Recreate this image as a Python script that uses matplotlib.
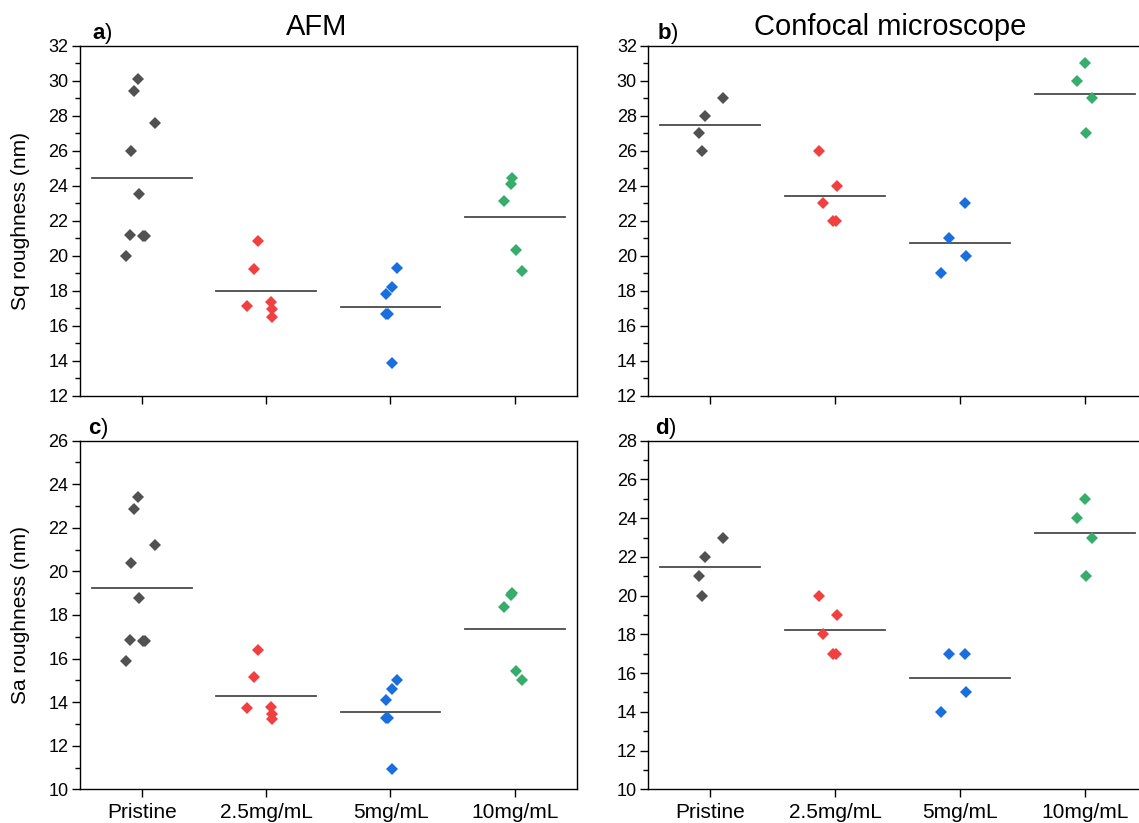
import numpy as np
import matplotlib
matplotlib.use('Agg')
import matplotlib.pyplot as plt
from matplotlib.ticker import MultipleLocator

plt.rcParams['font.family'] = ['Liberation Sans', 'DejaVu Sans']
plt.rcParams['mathtext.fontset'] = 'custom'
plt.rcParams['mathtext.rm'] = 'Liberation Sans'
plt.rcParams['mathtext.bf'] = 'Liberation Sans:bold'

# categories
groups = ['Pristine', '2.5mg/mL', '5mg/mL', '10mg/mL']
colors = ['#515151', '#F14040', '#1A6FDF', '#37AD6B']

# AFM (horizontal jitter per sample)
afm_dx = [
    [-0.03, -0.064, 0.105, -0.088, -0.02, -0.094, 0.006, 0.023, -0.123],
    [-0.064, -0.096, -0.152, 0.038, 0.05, 0.05],
    [0.053, 0.015, -0.035, -0.04, -0.02, 0.012],
    [-0.023, -0.029, -0.085, 0.012, 0.061],
]
sq_afm = [
    [30.12, 29.41, 27.59, 25.99, 23.55, 21.17, 21.15, 21.12, 19.97],
    [20.85, 19.23, 17.14, 17.37, 16.95, 16.53],
    [19.33, 18.24, 17.80, 16.70, 16.68, 13.86],
    [24.43, 24.08, 23.13, 20.35, 19.16],
]
sa_afm = [
    [23.40, 22.88, 21.23, 20.37, 18.80, 16.84, 16.82, 16.80, 15.90],
    [16.41, 15.14, 13.72, 13.79, 13.46, 13.21],
    [15.02, 14.59, 14.10, 13.27, 13.25, 10.95],
    [19.02, 18.92, 18.37, 15.45, 15.02],
]

# Confocal microscope
conf_dx = [
    [0.099, -0.041, -0.094, -0.070],
    [-0.129, 0.015, -0.096, -0.018, 0.006],
    [0.041, -0.091, 0.053, -0.149],
    [0.0, -0.058, 0.058, 0.012],
]
sq_conf = [
    [29, 28, 27, 26],
    [26, 24, 23, 22, 22],
    [23, 21, 20, 19],
    [31, 30, 29, 27],
]
sa_conf = [
    [23, 22, 21, 20],
    [20, 19, 18, 17, 17],
    [17, 17, 15, 14],
    [25, 24, 23, 21],
]

W, H = 1139, 823
fig = plt.figure(figsize=(W / 100, H / 100), dpi=100)


def px_axes(left, top, right, bottom):
    return fig.add_axes([left / W, 1 - bottom / H, (right - left) / W, (bottom - top) / H])


def panel(ax, dx, vals, ylim, label, lx, ylabel=None, title=None, tx=0.5, xlabels=False):
    for i, (d, v) in enumerate(zip(dx, vals)):
        x = i + 1 + np.array(d)
        ax.plot(x, v, 'D', ms=6.6, mew=0, color=colors[i], zorder=3)
        m = np.mean(v)
        ax.plot([i + 0.6, i + 1.4], [m, m], color='#4a4a4a', lw=1.3, zorder=2)
    ax.set_xlim(0.5, 4.5)
    ax.set_ylim(*ylim)
    ax.set_xticks(range(1, 5))
    if xlabels:
        ax.set_xticklabels(groups, fontsize=15)
    else:
        ax.set_xticklabels([])
    ax.yaxis.set_major_locator(MultipleLocator(2))
    ax.yaxis.set_minor_locator(MultipleLocator(1))
    ax.tick_params(axis='y', which='major', labelsize=13, length=6, width=1, pad=2)
    ax.tick_params(axis='y', which='minor', length=3.5, width=1)
    ax.tick_params(axis='x', which='major', length=6, width=1, pad=4)
    for s in ax.spines.values():
        s.set_linewidth(1.0)
    if ylabel:
        ax.set_ylabel(ylabel, fontsize=15)
        ax.yaxis.set_label_coords(-0.10, 0.5)
    if title:
        ax.text(tx, 1.03, title, transform=ax.transAxes, ha='center', va='baseline', fontsize=21)
    ax.text(lx, 1.018, r'$\mathbf{' + label + '}$)', transform=ax.transAxes,
            ha='left', va='baseline', fontsize=16)


ax_a = px_axes(79.6, 45.7, 577, 396)
ax_b = px_axes(648, 45.7, 1147, 396)
ax_c = px_axes(79.6, 440.7, 577, 789.3)
ax_d = px_axes(648, 440.7, 1147, 789.3)

panel(ax_a, afm_dx, sq_afm, (12, 32), 'a', 0.025, ylabel='Sq roughness (nm)', title='AFM', tx=0.476)
panel(ax_b, conf_dx, sq_conf, (12, 32), 'b', 0.018, title='Confocal microscope', tx=0.485)
panel(ax_c, afm_dx, sa_afm, (10, 26), 'c', 0.017, ylabel='Sa roughness (nm)', xlabels=True)
panel(ax_d, conf_dx, sa_conf, (10, 28), 'd', 0.015, xlabels=True)

fig.savefig('out.png', dpi=100)
